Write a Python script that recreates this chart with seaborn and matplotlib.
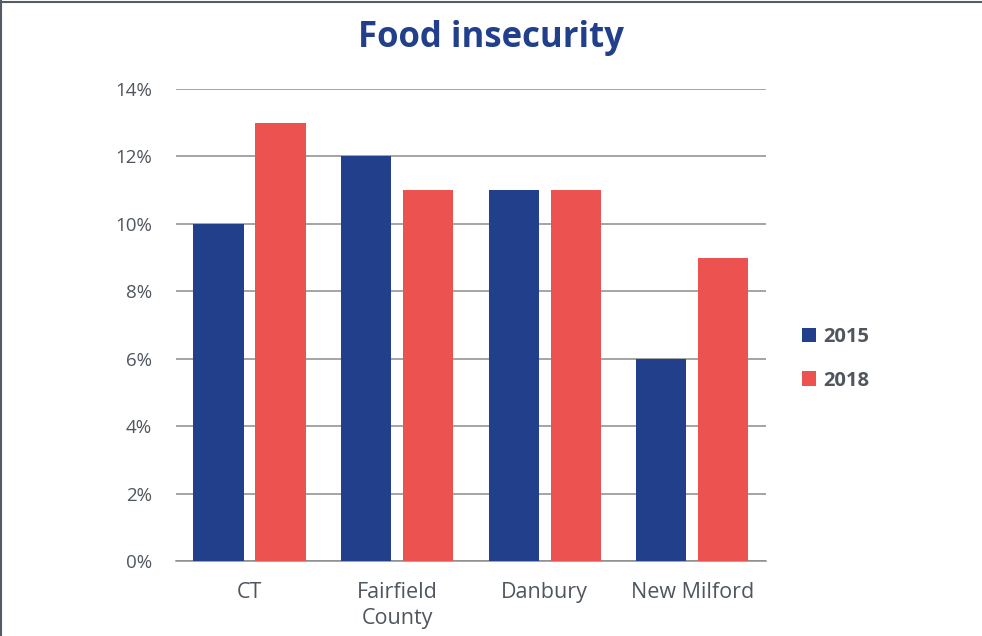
import matplotlib
matplotlib.use("Agg")
import matplotlib.pyplot as plt
import matplotlib.lines as mlines
import seaborn as sns
import pandas as pd

categories = ["CT", "Fairfield\nCounty", "Danbury", "New Milford"]
years = ["2015", "2018"]
values_2015 = [10, 12, 11, 6]
values_2018 = [13, 11, 11, 9]
yticks = [0, 2, 4, 6, 8, 10, 12, 14]

navy = "#213f8a"
red = "#eb5250"
text_gray = "#50565e"
grid_gray = "#8c8c8c"

df = pd.DataFrame({
    "place": categories * 2,
    "year": [years[0]] * 4 + [years[1]] * 4,
    "pct": values_2015 + values_2018,
})

sns.set_theme(style="white")
plt.rcParams["font.family"] = ["Open Sans", "DejaVu Sans"]

fig = plt.figure(figsize=(9.82, 6.36), dpi=100)
ax = fig.add_axes([0.179, 0.118, 0.601, 0.742])

sns.barplot(data=df, x="place", y="pct", hue="year", order=categories,
            hue_order=years, palette=[navy, red], width=0.84, gap=0.19,
            saturation=1, linewidth=0, ax=ax, zorder=3)

ax.set_ylim(0, 14)
ax.set_yticks(yticks)
ax.set_yticklabels([f"{t}%" for t in yticks])
ax.yaxis.grid(True, color=grid_gray, linewidth=1.1, zorder=0)
ax.set_axisbelow(True)
for side in ["left", "right", "top"]:
    ax.spines[side].set_visible(False)
ax.spines["bottom"].set_color(grid_gray)
ax.spines["bottom"].set_linewidth(1.1)
ax.set_xlabel("")
ax.set_ylabel("")
ax.tick_params(axis="y", length=0, pad=17, labelsize=13.5, labelcolor=text_gray)
ax.tick_params(axis="x", length=0, pad=15, labelsize=15.5, labelcolor=text_gray)
for lbl in ax.get_xticklabels():
    lbl.set_linespacing(1.35)

leg = ax.legend(loc="center left", bbox_to_anchor=(1.03, 0.428), frameon=False,
                fontsize=14.5, handlelength=0.7, handleheight=0.7,
                handletextpad=0.35, labelspacing=1.15)
for t in leg.get_texts():
    t.set_color(text_gray)
    t.set_fontweight("bold")

fig.text(0.5, 0.94, "Food insecurity", ha="center", va="center",
         fontsize=25, fontweight="bold", color=navy)

# thin frame along the top and left edges
fig.add_artist(mlines.Line2D([0, 1], [0.997, 0.997], transform=fig.transFigure,
                             color="#555b63", linewidth=1.5))
fig.add_artist(mlines.Line2D([0.0015, 0.0015], [0, 1], transform=fig.transFigure,
                             color="#555b63", linewidth=1.5))

fig.savefig("out.png", dpi=100)
